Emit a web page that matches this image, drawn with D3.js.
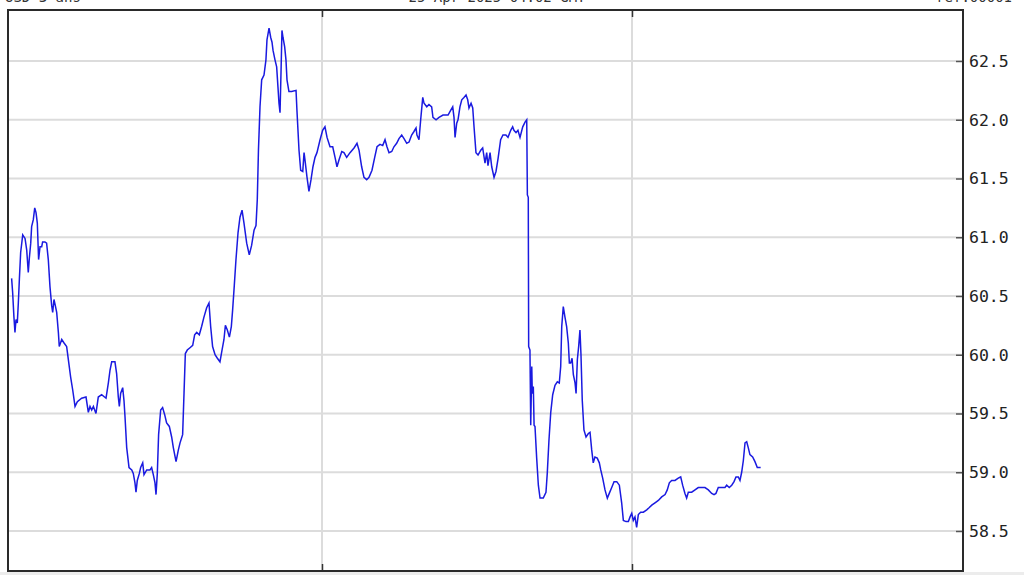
<!DOCTYPE html>
<html><head><meta charset="utf-8">
<script src="https://cdn.jsdelivr.net/npm/d3@7"></script>
<style>
html,body{margin:0;padding:0;background:#fff;overflow:hidden;}
svg{display:block;}
</style></head>
<body>
<svg id="chart" width="1024" height="575"></svg>
<script>
// ---- data (hours since start of the 3-day window, price) ----
const hours = [
-0.03,0.05,0.15,0.23,0.31,0.41,0.49,0.57,0.67,0.83,
1.01,1.14,1.26,1.34,1.45,1.52,1.65,1.76,1.86,1.96,
2.06,2.17,2.30,2.37,2.55,2.68,2.81,2.94,3.07,3.15,
3.25,3.35,3.46,3.59,3.66,3.85,4.03,4.23,4.36,4.54,
4.70,4.88,5.06,5.39,5.73,5.91,6.04,6.17,6.30,6.50,
6.68,6.94,7.28,7.46,7.59,7.72,7.97,8.10,8.23,8.31,
8.41,8.57,8.67,8.75,8.88,9.06,9.27,9.39,9.52,9.60,
9.70,9.86,9.96,10.12,10.22,10.43,10.68,10.81,10.94,11.07,
11.15,11.25,11.35,11.51,11.66,11.82,11.97,12.18,12.36,12.49,
12.70,12.88,13.01,13.21,13.32,13.42,13.57,13.78,13.99,14.14,
14.30,14.50,14.68,14.86,15.07,15.25,15.38,15.53,15.72,15.90,
16.10,16.26,16.41,16.52,16.67,16.83,16.98,17.08,17.21,17.34,
17.50,17.65,17.81,17.96,18.17,18.37,18.55,18.74,18.89,18.99,
19.08,19.20,19.33,19.51,19.66,19.74,19.90,20.03,20.13,20.21,
20.36,20.49,20.59,20.67,20.75,20.83,20.90,20.98,21.11,21.21,
21.29,21.44,21.65,21.99,22.06,22.22,22.35,22.51,22.61,22.68,
22.84,22.99,23.15,23.30,23.46,23.61,23.85,24.05,24.23,24.39,
24.62,24.83,25.01,25.16,25.32,25.53,25.70,25.91,26.17,26.48,
26.71,26.87,27.07,27.25,27.46,27.64,27.87,28.08,28.26,28.49,
28.70,28.88,29.03,29.19,29.40,29.57,29.78,29.96,30.17,30.35,
30.56,30.74,30.94,31.12,31.28,31.35,31.51,31.64,31.80,31.90,
32.11,32.28,32.49,32.59,32.83,33.06,33.37,33.76,33.96,34.12,
34.22,34.30,34.43,34.53,34.68,34.82,34.99,35.15,35.28,35.38,
35.54,35.67,35.77,35.92,36.08,36.29,36.44,36.62,36.75,36.85,
37.01,37.14,37.32,37.47,37.63,37.83,38.01,38.24,38.40,38.61,
38.76,38.86,39.02,39.17,39.33,39.54,39.72,39.85,39.90,39.97,
40.00,40.10,40.16,40.24,40.28,40.36,40.42,40.49,40.62,40.75,
40.88,41.13,41.34,41.44,41.57,41.71,41.86,42.04,42.22,42.37,
42.48,42.56,42.68,42.81,42.94,43.07,43.15,43.25,43.36,43.46,
43.59,43.67,43.77,43.87,43.97,44.05,44.15,44.28,44.44,44.62,
44.75,44.88,45.00,45.13,45.31,45.47,45.58,45.73,45.91,46.09,
46.24,46.43,46.61,46.82,47.02,47.20,47.33,47.54,47.72,47.85,
47.98,48.10,48.23,48.36,48.49,48.67,48.88,49.14,49.34,49.53,
49.78,50.04,50.30,50.56,50.73,50.89,51.07,51.33,51.58,51.77,
51.92,52.10,52.23,52.36,52.62,52.88,53.13,53.40,53.65,53.91,
54.17,54.35,54.50,54.68,54.94,55.20,55.33,55.53,55.72,55.90,
56.05,56.23,56.36,56.49,56.62,56.75,56.88,57.00,57.13,57.34,
57.52,57.70,57.96
];
const prices = [
60.65,60.53,60.32,60.19,60.30,60.27,60.44,60.64,60.87,61.02,
60.99,60.89,60.70,60.82,60.95,61.09,61.15,61.25,61.21,61.12,
60.81,60.92,60.92,60.96,60.96,60.95,60.81,60.58,60.42,60.36,
60.47,60.42,60.36,60.19,60.07,60.13,60.10,60.07,59.96,59.81,
59.70,59.56,59.60,59.63,59.64,59.51,59.56,59.53,59.56,59.50,
59.64,59.66,59.63,59.76,59.87,59.94,59.94,59.84,59.64,59.56,
59.67,59.72,59.61,59.47,59.21,59.04,59.02,58.99,58.91,58.83,
58.93,58.99,59.04,59.08,58.98,59.02,59.02,59.04,58.98,58.91,
58.81,58.99,59.32,59.53,59.55,59.49,59.42,59.39,59.30,59.21,
59.09,59.19,59.25,59.32,59.68,60.01,60.04,60.06,60.08,60.17,
60.19,60.17,60.24,60.32,60.40,60.44,60.24,60.07,60.00,59.97,
59.94,60.04,60.13,60.25,60.21,60.15,60.24,60.38,60.59,60.81,
61.04,61.17,61.23,61.12,60.95,60.85,60.93,61.06,61.10,61.32,
61.74,62.11,62.34,62.38,62.51,62.68,62.78,62.70,62.66,62.59,
62.51,62.45,62.28,62.14,62.06,62.42,62.76,62.70,62.62,62.51,
62.34,62.24,62.24,62.25,62.08,61.74,61.57,61.56,61.72,61.66,
61.51,61.39,61.49,61.60,61.68,61.72,61.83,61.91,61.94,61.85,
61.77,61.77,61.68,61.60,61.66,61.73,61.72,61.68,61.72,61.76,
61.80,61.74,61.60,61.51,61.49,61.51,61.57,61.68,61.77,61.79,
61.78,61.83,61.77,61.72,61.73,61.77,61.80,61.84,61.87,61.84,
61.80,61.81,61.87,61.90,61.93,61.87,61.83,62.00,62.19,62.14,
62.11,62.13,62.11,62.02,62.00,62.02,62.04,62.04,62.08,62.11,
62.02,61.85,61.97,62.00,62.11,62.17,62.19,62.21,62.17,62.10,
62.14,62.10,61.94,61.72,61.70,61.74,61.76,61.63,61.72,61.61,
61.72,61.60,61.51,61.56,61.67,61.83,61.87,61.87,61.85,61.91,
61.94,61.91,61.89,61.91,61.85,61.94,61.98,62.00,61.36,61.34,
60.07,60.04,59.40,59.90,59.67,59.73,59.40,59.39,59.12,58.89,
58.78,58.78,58.83,58.99,59.27,59.51,59.66,59.74,59.77,59.76,
59.90,60.24,60.41,60.32,60.24,60.10,59.93,59.93,59.97,59.83,
59.76,59.67,59.96,60.07,60.21,60.00,59.61,59.36,59.30,59.33,
59.34,59.19,59.08,59.13,59.12,59.08,59.02,58.95,58.85,58.78,
58.82,58.87,58.92,58.92,58.89,58.74,58.59,58.58,58.58,58.62,
58.65,58.59,58.62,58.53,58.64,58.66,58.66,58.68,58.70,58.72,
58.74,58.76,58.79,58.81,58.85,58.91,58.93,58.93,58.95,58.96,
58.89,58.82,58.78,58.83,58.83,58.85,58.87,58.87,58.87,58.85,
58.82,58.81,58.82,58.87,58.87,58.87,58.89,58.87,58.89,58.92,
58.96,58.96,58.93,59.00,59.10,59.25,59.26,59.21,59.15,59.13,
59.09,59.04,59.04
];
const yTicks = [58.5, 59.0, 59.5, 60.0, 60.5, 61.0, 61.5, 62.0, 62.5];
const dayBoundaries = [24, 48];
const dayCenters = [12, 36, 60];
const dayLabels = ["14 Apr", "15 Apr", "16 Apr"];
const headerLeft = "USD     3 ans";
const headerCenter = "25 Apr 2025 04:02 GMT";
const headerRight = "ref.00001";

// ---- layout ----
const svg = d3.select("#chart");
const frame = {left: 8, right: 963, top: 10, bottom: 571};
const x = d3.scaleLinear().domain([0, 72]).range([12, 942]);
const y = d3.scaleLinear().domain([58.5, 62.5]).range([531, 61]);
const mono = "'DejaVu Sans Mono', 'Liberation Mono', monospace";

// bottom grey band
svg.append("rect").attr("x", 0).attr("y", frame.bottom + 1).attr("width", 1024).attr("height", 10).attr("fill", "#ececec");

// horizontal grid lines
svg.append("g").selectAll("line").data(yTicks).join("line")
  .attr("x1", frame.left).attr("x2", frame.right)
  .attr("y1", d => y(d)).attr("y2", d => y(d))
  .attr("stroke", "#dcdcdc").attr("stroke-width", 2);

// vertical grid lines
svg.append("g").selectAll("line").data(dayBoundaries).join("line")
  .attr("x1", d => x(d)).attr("x2", d => x(d))
  .attr("y1", frame.top).attr("y2", frame.bottom)
  .attr("stroke", "#dcdcdc").attr("stroke-width", 2);

// right axis ticks (pointing inside the plot)
const yAxis = svg.append("g").attr("transform", `translate(${frame.right},0)`)
  .call(d3.axisLeft(y).tickValues(yTicks).tickSize(7).tickFormat(""));
yAxis.select(".domain").remove();
yAxis.selectAll(".tick line").attr("stroke", "#555").attr("stroke-width", 1.5);

svg.append("g").selectAll("text").data(yTicks).join("text")
  .attr("x", 969).attr("y", d => y(d)).attr("dy", "0.36em")
  .attr("font-family", mono).attr("font-size", 16.5).attr("fill", "#222")
  .text(d => d3.format(".1f")(d));

// top & bottom tick marks at day boundaries
const xTop = svg.append("g").attr("transform", `translate(0,${frame.top})`)
  .call(d3.axisBottom(x).tickValues(dayBoundaries).tickSize(7).tickFormat(""));
xTop.select(".domain").remove();
xTop.selectAll(".tick line").attr("stroke", "#333").attr("stroke-width", 1.5);
const xBot = svg.append("g").attr("transform", `translate(0,${frame.bottom})`)
  .call(d3.axisTop(x).tickValues(dayBoundaries).tickSize(7).tickFormat(""));
xBot.select(".domain").remove();
xBot.selectAll(".tick line").attr("stroke", "#333").attr("stroke-width", 1.5);

// price line
const line = d3.line().x((d, i) => x(hours[i])).y(d => y(d));
svg.append("path").datum(prices)
  .attr("d", line)
  .attr("fill", "none")
  .attr("stroke", "#1a1ae0")
  .attr("stroke-width", 1.5)
  .attr("stroke-linejoin", "miter");

// frame
svg.append("rect")
  .attr("x", frame.left).attr("y", frame.top)
  .attr("width", frame.right - frame.left).attr("height", frame.bottom - frame.top)
  .attr("fill", "none").attr("stroke", "#2a2a2a").attr("stroke-width", 2);

// bottom day labels (mostly cut off by the window, as in the reference)
svg.append("g").selectAll("text").data(dayCenters).join("text")
  .attr("x", d => x(d) - 11).attr("y", 586)
  .attr("text-anchor", "middle")
  .attr("font-family", mono).attr("font-size", 14).attr("fill", "#333")
  .text((d, i) => dayLabels[i]);

// header texts (cut off at the top, as in the reference)
svg.append("text").attr("x", 5).attr("y", 2).attr("font-family", mono).attr("font-size", 14).attr("fill", "#333").text(headerLeft);
svg.append("text").attr("x", 497).attr("y", 2).attr("text-anchor", "middle").attr("font-family", mono).attr("font-size", 14).attr("fill", "#333").text(headerCenter);
svg.append("text").attr("x", 1012).attr("y", 2).attr("text-anchor", "end").attr("font-family", mono).attr("font-size", 14).attr("fill", "#333").text(headerRight);
</script>
</body></html>
